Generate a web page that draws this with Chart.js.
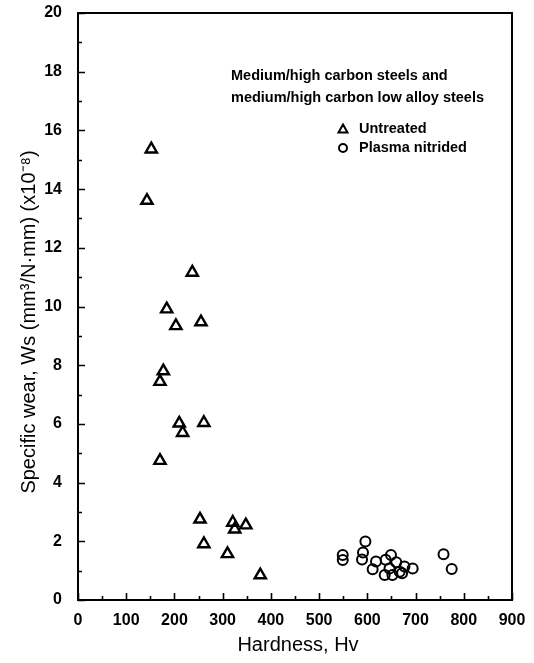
<!DOCTYPE html>
<html>
<head>
<meta charset="utf-8">
<script src="https://cdn.jsdelivr.net/npm/chart.js@4.4.1/dist/chart.umd.min.js"></script>
<style>
  html, body { margin: 0; padding: 0; background: #fff; }
  #wrap { width: 534px; height: 663px; }
</style>
</head>
<body>
<div id="wrap"><canvas id="wearChart" width="534" height="663"></canvas></div>
<script>
// values
const hardnessUntreated = [152, 143, 237, 184, 203, 255, 177, 170, 210, 217, 261, 170, 253, 261, 321, 325, 348, 310, 378];
const wearUntreated     = [15.36, 13.61, 11.16, 9.91, 9.34, 9.47, 7.8, 7.44, 6.02, 5.70, 6.04, 4.75, 2.75, 1.91, 2.64, 2.41, 2.55, 1.57, 0.85];

const hardnessNitrided = [549, 549, 596, 591, 589, 618, 611, 638, 649, 660, 646, 636, 652, 667, 677, 672, 694, 758, 775];
const wearNitrided     = [1.53, 1.36, 1.99, 1.62, 1.38, 1.31, 1.05, 1.37, 1.53, 1.29, 1.07, 0.85, 0.85, 0.96, 1.14, 0.91, 1.07, 1.56, 1.06];

const xTickLabels = [0, 100, 200, 300, 400, 500, 600, 700, 800, 900];
const yTickLabels = [0, 2, 4, 6, 8, 10, 12, 14, 16, 18, 20];

const legendTitle = ['Medium/high carbon steels and', 'medium/high carbon low alloy steels'];
const seriesNames = ['Untreated', 'Plasma nitrided'];

const FONT = '"Liberation Sans", Arial, sans-serif';

function toPoints(xs, ys) {
  let pts = [];
  for (let i = 0; i < xs.length; i++) pts.push({x: xs[i], y: ys[i]});
  return pts;
}

// frame, inward ticks, legend box text, axis titles
const decorations = {
  id: 'decorations',
  afterDraw(chart) {
    const ctx = chart.ctx;
    const a = chart.chartArea;
    const xs = chart.scales.x, ys = chart.scales.y;
    ctx.save();
    ctx.strokeStyle = '#000';
    ctx.fillStyle = '#000';

    // ticks pointing into the plot
    ctx.lineWidth = 1.6;
    ctx.beginPath();
    xs.ticks.forEach(function (t) {
      const px = Math.round(xs.getPixelForValue(t.value)) + 0.5;
      const len = xTickLabels.indexOf(t.value) >= 0 ? 7 : 4;
      ctx.moveTo(px, a.bottom);
      ctx.lineTo(px, a.bottom - len);
    });
    ys.ticks.forEach(function (t) {
      const py = Math.round(ys.getPixelForValue(t.value)) + 0.5;
      const len = yTickLabels.indexOf(t.value) >= 0 ? 7 : 4;
      ctx.moveTo(a.left, py);
      ctx.lineTo(a.left + len, py);
    });
    ctx.stroke();

    // frame
    ctx.lineWidth = 2;
    ctx.strokeRect(a.left, a.top, a.right - a.left, a.bottom - a.top);

    // legend text
    ctx.font = 'bold 14.5px ' + FONT;
    ctx.textAlign = 'left';
    ctx.textBaseline = 'middle';
    ctx.fillText(legendTitle[0], 231, 76);
    ctx.fillText(legendTitle[1], 231, 98);
    ctx.fillText(seriesNames[0], 359, 129);
    ctx.fillText(seriesNames[1], 359, 148);

    // legend markers
    ctx.lineWidth = 2;
    ctx.beginPath();
    ctx.moveTo(343, 124.5);
    ctx.lineTo(347.5, 132.5);
    ctx.lineTo(338.5, 132.5);
    ctx.closePath();
    ctx.stroke();
    ctx.beginPath();
    ctx.arc(343, 148, 4, 0, Math.PI * 2);
    ctx.stroke();

    // axis titles
    ctx.font = '20px ' + FONT;
    ctx.textAlign = 'center';
    ctx.fillText('Hardness, Hv', (a.left + a.right) / 2 + 3, 645);

    ctx.translate(29, 322);
    ctx.rotate(-Math.PI / 2);
    ctx.fillText('Specific wear, Ws (mm\u00B3/N\u00B7mm) (x10\u207B\u2078)', 0, 0);
    ctx.restore();
  }
};

const ctx = document.getElementById('wearChart').getContext('2d');
new Chart(ctx, {
  type: 'scatter',
  data: {
    datasets: [{
      label: seriesNames[0],
      data: toPoints(hardnessUntreated, wearUntreated),
      pointStyle: 'triangle',
      pointRadius: 6.5,
      borderColor: '#000',
      backgroundColor: 'rgba(0,0,0,0)',
      borderWidth: 2.4
    }, {
      label: seriesNames[1],
      data: toPoints(hardnessNitrided, wearNitrided),
      pointStyle: 'circle',
      pointRadius: 5,
      borderColor: '#000',
      backgroundColor: 'rgba(0,0,0,0)',
      borderWidth: 2
    }]
  },
  options: {
    responsive: false,
    animation: false,
    events: [],
    layout: { padding: { top: 13, right: 22, left: 0, bottom: 0 } },
    plugins: {
      legend: { display: false },
      tooltip: { enabled: false }
    },
    scales: {
      x: {
        type: 'linear',
        min: 0,
        max: 900,
        grid: { display: false },
        border: { display: false },
        ticks: {
          stepSize: 50,
          autoSkip: false,
          maxRotation: 0,
          padding: 3,
          color: '#000',
          font: { family: FONT, size: 16, weight: 'bold' },
          callback: function (v) { return xTickLabels.indexOf(v) >= 0 ? String(v) : ''; }
        },
        afterFit: function (s) { s.height = 63; s.paddingLeft = 0; s.paddingRight = 0; }
      },
      y: {
        min: 0,
        max: 20,
        grid: { display: false },
        border: { display: false },
        ticks: {
          stepSize: 1,
          autoSkip: false,
          padding: 8,
          color: '#000',
          font: { family: FONT, size: 16, weight: 'bold' },
          callback: function (v) { return yTickLabels.indexOf(v) >= 0 ? String(v) : ''; }
        },
        afterFit: function (s) { s.width = 78; s.paddingTop = 0; s.paddingBottom = 0; }
      }
    }
  },
  plugins: [decorations]
});
</script>
</body>
</html>
